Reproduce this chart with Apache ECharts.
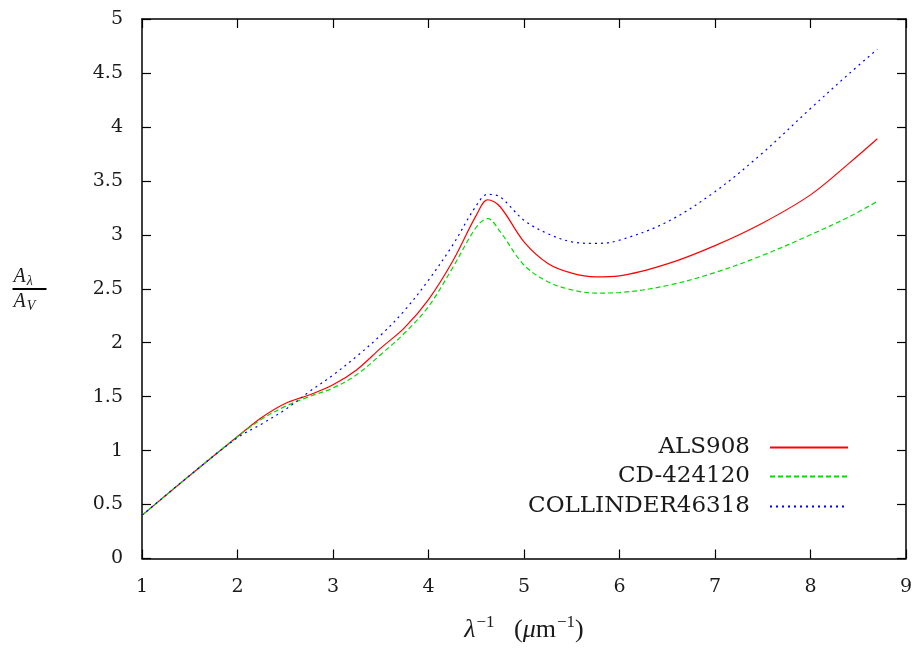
<!DOCTYPE html>
<html><head><meta charset="utf-8">
<script src="https://cdn.jsdelivr.net/npm/echarts@6/dist/echarts.min.js"></script>
<style>html,body{margin:0;padding:0;background:#fff}#c{width:917px;height:648px}</style>
</head><body><div id="c"></div>
<script>
const xs = [1.0,1.5,2.0,2.25,2.5,2.75,3.0,3.25,3.5,3.75,4.0,4.25,4.5,4.62,4.75,5.0,5.25,5.5,5.75,6.0,6.5,7.0,7.5,8.0,8.4,8.7];
const als908 = [0.40,0.77,1.13,1.305,1.437,1.515,1.61,1.75,1.95,2.14,2.40,2.75,3.18,3.325,3.26,2.935,2.735,2.645,2.61,2.62,2.73,2.90,3.11,3.37,3.66,3.89];
const cd424120 = [0.40,0.77,1.13,1.29,1.41,1.50,1.58,1.705,1.89,2.09,2.335,2.69,3.07,3.15,3.03,2.72,2.565,2.49,2.46,2.465,2.53,2.65,2.81,3.00,3.165,3.31];
const collinder = [0.40,0.77,1.12,1.245,1.38,1.545,1.70,1.875,2.07,2.30,2.58,2.90,3.27,3.375,3.35,3.135,3.01,2.935,2.92,2.95,3.12,3.40,3.76,4.17,4.49,4.72];
const seriesNames = ['ALS908','CD-424120','COLLINDER46318'];

const pairs = ys => xs.map((x,i)=>[x, ys[i]]);
const font = 'DejaVu Serif, serif';
const mfont = 'Liberation Serif, DejaVu Serif, serif';
const chart = echarts.init(document.getElementById('c'));
const axisCommon = {
  axisLine:{show:true,onZero:false,lineStyle:{color:'#000',width:1.5}},
  axisTick:{show:true,inside:true,length:9,lineStyle:{color:'#000',width:1.2}},
  splitLine:{show:false}
};
const legendBase = (name, top) => ({
  data:[name], orient:'vertical', right:68, top:top, align:'right', padding:0,
  itemWidth:78, itemHeight:12, itemGap:0,
  itemStyle:{opacity:0},
  textStyle:{fontFamily:font,fontSize:23,color:'#1a1a1a',padding:[0,15,0,0]}
});
chart.setOption({
  animation:false,
  backgroundColor:'#fff',
  grid:{left:142,right:11,top:19,bottom:87},
  legend:[legendBase(seriesNames[0],436),legendBase(seriesNames[1],465),legendBase(seriesNames[2],495)],
  xAxis:[
    Object.assign({type:'value',min:1,max:9,interval:1,position:'bottom',
      axisLabel:{fontFamily:font,fontSize:19,color:'#1a1a1a',margin:19},
      name:'{n|λ}{s|−1}{m|   (}{n2|μ}{m|m}{s|−1}{m|)}', nameLocation:'middle', nameGap:56,
      nameTextStyle:{fontFamily:mfont,fontSize:26,color:'#1a1a1a',
        rich:{n:{fontFamily:mfont,fontSize:26,fontStyle:'italic',color:'#1a1a1a'},
              m:{fontFamily:mfont,fontSize:26,color:'#1a1a1a'},
              n2:{fontFamily:mfont,fontSize:26,fontStyle:'italic',color:'#1a1a1a'},
              s:{fontFamily:mfont,fontSize:17,verticalAlign:'top',padding:[0,0,14,1],color:'#1a1a1a'}}}
    }, axisCommon),
    Object.assign({type:'value',min:1,max:9,interval:1,position:'top',axisLabel:{show:false}}, axisCommon)
  ],
  yAxis:[
    Object.assign({type:'value',min:0,max:5,interval:0.5,position:'left',
      axisLabel:{fontFamily:font,fontSize:19,color:'#1a1a1a',margin:19}}, axisCommon),
    Object.assign({type:'value',min:0,max:5,interval:0.5,position:'right',axisLabel:{show:false}}, axisCommon)
  ],
  graphic:[{
    type:'group', left:10, top:267,
    children:[
      {type:'text', left:1, top:0, style:{text:'{a|A}{s|λ}', rich:{a:{fontFamily:mfont,fontSize:20,fontStyle:'italic',fill:'#1a1a1a'},s:{fontFamily:mfont,fontSize:14,fontStyle:'italic',padding:[8,0,0,1],fill:'#1a1a1a'}}}},
      {type:'line', shape:{x1:0,y1:22,x2:34,y2:22}, style:{stroke:'#000',lineWidth:1.8}},
      {type:'text', left:1, top:25, style:{text:'{a|A}{s|V}', rich:{a:{fontFamily:mfont,fontSize:20,fontStyle:'italic',fill:'#1a1a1a'},s:{fontFamily:mfont,fontSize:14,fontStyle:'italic',padding:[8,0,0,1],fill:'#1a1a1a'}}}}
    ]
  }],
  series:[
    {name:seriesNames[0],type:'line',data:pairs(als908),smooth:0.35,symbol:'none',
      lineStyle:{color:'#ff0000',width:1.2,type:'solid'},itemStyle:{color:'#ff0000'}},
    {name:seriesNames[1],type:'line',data:pairs(cd424120),smooth:0.35,symbol:'none',
      lineStyle:{color:'#00dd00',width:1.2,type:[5,3]},itemStyle:{color:'#00dd00'}},
    {name:seriesNames[2],type:'line',data:pairs(collinder),smooth:0.35,symbol:'none',
      lineStyle:{color:'#0000ff',width:1.2,type:[2,4]},itemStyle:{color:'#0000ff'}}
  ]
});
</script></body></html>
